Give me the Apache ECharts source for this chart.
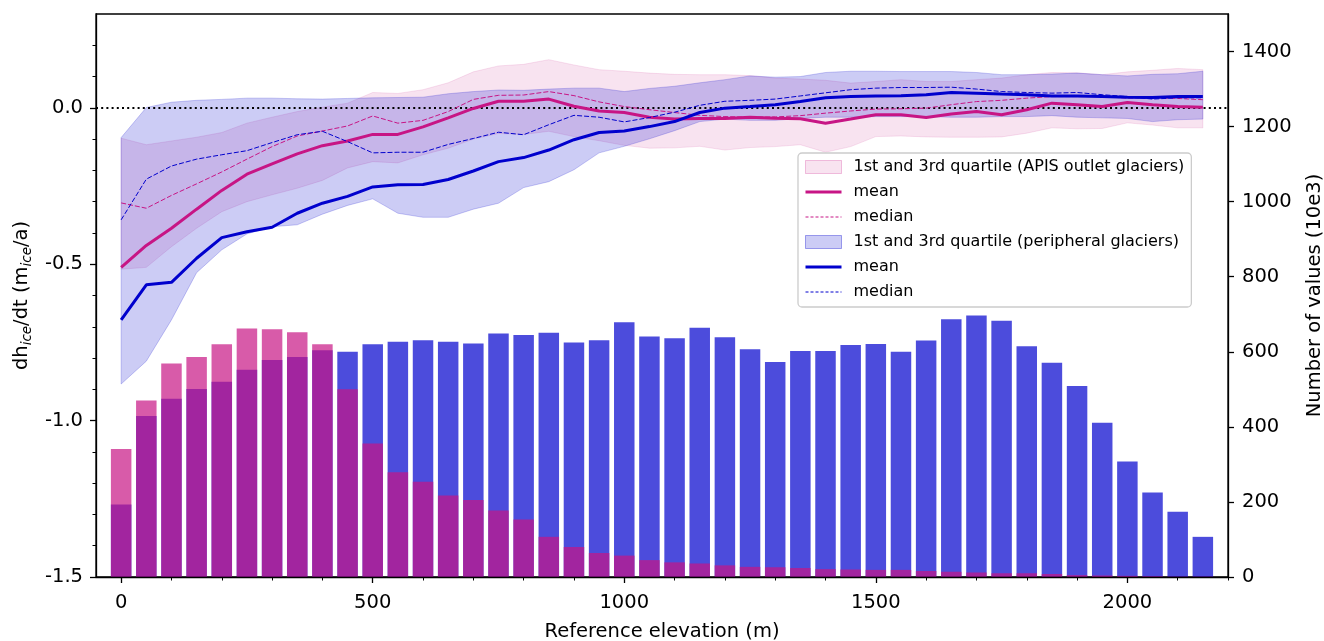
<!DOCTYPE html>
<html><head><meta charset="utf-8">
<script src="https://cdn.jsdelivr.net/npm/echarts@6/dist/echarts.min.js"></script>
<style>html,body{margin:0;padding:0;background:#fff}#c{width:1324px;height:641px}</style>
</head><body><div id="c"></div>
<script>
const elevations = [0,50,100,150,200,250,300,350,400,450,500,550,600,650,700,750,800,850,900,950,1000,1050,1100,1150,1200,1250,1300,1350,1400,1450,1500,1550,1600,1650,1700,1750,1800,1850,1900,1950,2000,2050,2100,2150];

const apisMean = [-0.51,-0.44,-0.385,-0.324,-0.264,-0.212,-0.179,-0.147,-0.121,-0.106,-0.085,-0.085,-0.061,-0.032,-0.002,0.021,0.021,0.028,0.005,-0.01,-0.015,-0.03,-0.036,-0.034,-0.034,-0.03,-0.033,-0.035,-0.049,-0.036,-0.022,-0.022,-0.031,-0.02,-0.012,-0.022,-0.006,0.015,0.01,0.004,0.017,0.01,0.004,0.002];
const apisMedian = [-0.304,-0.321,-0.28,-0.243,-0.205,-0.164,-0.124,-0.09,-0.074,-0.058,-0.026,-0.049,-0.04,-0.012,0.027,0.04,0.041,0.052,0.039,0.019,0.004,-0.006,-0.015,-0.024,-0.028,-0.03,-0.029,-0.025,-0.017,-0.01,-0.004,-0.003,-0.001,0.01,0.02,0.024,0.031,0.036,0.036,0.036,0.031,0.033,0.03,0.026];
const apisQ1 = [-0.516,-0.51,-0.444,-0.385,-0.332,-0.3,-0.278,-0.257,-0.232,-0.192,-0.172,-0.176,-0.15,-0.129,-0.1,-0.082,-0.085,-0.075,-0.092,-0.105,-0.12,-0.129,-0.128,-0.123,-0.135,-0.127,-0.124,-0.118,-0.142,-0.124,-0.092,-0.09,-0.093,-0.094,-0.094,-0.093,-0.081,-0.064,-0.067,-0.066,-0.048,-0.055,-0.064,-0.064];
const apisQ3 = [-0.097,-0.118,-0.106,-0.094,-0.079,-0.049,-0.03,-0.012,0.002,0.015,0.049,0.046,0.058,0.08,0.115,0.134,0.139,0.154,0.137,0.122,0.117,0.111,0.107,0.106,0.106,0.103,0.095,0.092,0.088,0.079,0.084,0.09,0.084,0.084,0.09,0.095,0.106,0.113,0.112,0.106,0.115,0.12,0.126,0.122];

const periMean = [-0.678,-0.566,-0.558,-0.481,-0.415,-0.396,-0.382,-0.337,-0.305,-0.283,-0.253,-0.246,-0.245,-0.229,-0.202,-0.172,-0.159,-0.135,-0.102,-0.079,-0.074,-0.06,-0.044,-0.015,-0.001,0.004,0.01,0.02,0.032,0.036,0.038,0.039,0.042,0.049,0.047,0.044,0.042,0.038,0.038,0.036,0.034,0.033,0.036,0.036];
const periMedian = [-0.358,-0.228,-0.186,-0.164,-0.15,-0.137,-0.111,-0.086,-0.075,-0.108,-0.144,-0.142,-0.142,-0.117,-0.098,-0.078,-0.086,-0.054,-0.024,-0.03,-0.045,-0.031,-0.014,0.008,0.021,0.024,0.028,0.038,0.048,0.058,0.063,0.065,0.065,0.066,0.06,0.052,0.049,0.047,0.049,0.042,0.036,0.028,0.032,0.032];
const periQ1 = [-0.883,-0.81,-0.678,-0.527,-0.454,-0.403,-0.38,-0.374,-0.34,-0.312,-0.291,-0.337,-0.35,-0.35,-0.324,-0.305,-0.255,-0.236,-0.198,-0.144,-0.123,-0.099,-0.073,-0.044,-0.036,-0.04,-0.04,-0.034,-0.03,-0.03,-0.028,-0.028,-0.028,-0.03,-0.03,-0.028,-0.028,-0.025,-0.03,-0.032,-0.034,-0.044,-0.038,-0.036];
const periQ3 = [-0.095,0.001,0.018,0.024,0.027,0.031,0.031,0.029,0.028,0.03,0.032,0.033,0.034,0.045,0.052,0.057,0.056,0.06,0.063,0.063,0.052,0.062,0.069,0.08,0.09,0.102,0.098,0.1,0.113,0.117,0.117,0.116,0.116,0.116,0.113,0.106,0.106,0.108,0.111,0.106,0.102,0.107,0.109,0.117];

const periCount = [193,429,475,501,520,552,578,586,604,600,620,627,631,627,622,649,645,651,625,631,679,641,636,664,639,607,573,602,602,618,621,600,630,687,697,683,615,571,509,411,308,225,174,107];
const apisCount = [341,470,569,586,620,662,660,652,620,500,356,279,254,217,205,177,153,107,80,64,57,45,39,36,31,27,26,24,21,20,19,19,16,14,12,10,10,8,5,4,3,2,1,1];

const xMajorTicks = [0,500,1000,1500,2000];
const xMinorTicks = [100,200,300,400,600,700,800,900,1100,1200,1300,1400,1600,1700,1800,1900,2100,2200];
const yLeftMajorTicks = [-1.5,-1.0,-0.5,0.0];
const yLeftMinorTicks = [-1.4,-1.3,-1.2,-1.1,-0.9,-0.8,-0.7,-0.6,-0.4,-0.3,-0.2,-0.1,0.1,0.2];
const yRightTicks = [0,200,400,600,800,1000,1200,1400];

const seriesNames = ['APIS quartiles','APIS mean','APIS median','peripheral quartiles','peripheral mean','peripheral median'];
const legendTexts = ['1st and 3rd quartile (APIS outlet glaciers)','mean','median','1st and 3rd quartile (peripheral glaciers)','mean','median'];

const FONT = 'DejaVu Sans';
const PINK = '#C71585';
const BLUE = '#0000CD';
const PINK_FILL = 'rgba(199,21,133,0.12)';
const BLUE_FILL = 'rgba(0,0,205,0.2)';

function pairs(ys) { return elevations.map((e, i) => [e, ys[i]]); }

function bandSeries(name, lower, upper, fill) {
  return {
    type: 'custom', name: name, xAxisIndex: 0, yAxisIndex: 0, z: 2,
    itemStyle: {color: fill, borderColor: fill, borderWidth: 1},
    encode: {x: 0, y: [1, 2]},
    data: elevations.map((e, i) => [e, lower[i], upper[i]]),
    renderItem: function (params, api) {
      if (params.dataIndex !== 0) return null;
      const pts = [];
      for (let i = 0; i < elevations.length; i++) pts.push(api.coord([elevations[i], upper[i]]));
      for (let i = elevations.length - 1; i >= 0; i--) pts.push(api.coord([elevations[i], lower[i]]));
      return {type: 'polygon', shape: {points: pts}, style: {fill: fill, stroke: fill, lineWidth: 1}};
    }
  };
}

function lineSeries(name, ys, color, width, dashed, z) {
  return {
    type: 'line', name: name, xAxisIndex: 0, yAxisIndex: 0, z: z,
    data: pairs(ys), symbol: 'none', showSymbol: false,
    lineStyle: {color: color, width: width, type: dashed ? [5, 2] : 'solid'},
    itemStyle: {color: color}
  };
}

const chart = echarts.init(document.getElementById('c'), null, {renderer: 'canvas'});

const tickStyle = {color: '#000', width: 1.3};
const labelStyle = {fontFamily: FONT, fontSize: 19.5, color: '#000'};
const plain = v => String(v);

const zeroLine = lineSeries(seriesNames[5], periMedian, BLUE, 1, true, 6);
zeroLine.markLine = {
  silent: true, symbol: ['none', 'none'], animation: false,
  label: {show: false},
  lineStyle: {color: '#000', type: [2, 3.2], width: 2},
  data: [{yAxis: 0}]
};

chart.setOption({
  animation: false,
  backgroundColor: '#fff',
  grid: {left: 96, right: 96, top: 14, bottom: 64, containLabel: false, outerBoundsMode: 'none',
         show: true, borderColor: '#000', borderWidth: 1.3, backgroundColor: 'transparent'},
  xAxis: [
    {
      type: 'value', min: -50, max: 2200, z: 10, position: 'bottom',
      axisLine: {show: true, onZero: false, lineStyle: {color: '#000', width: 1.3}},
      axisTick: {show: true, length: 6, lineStyle: tickStyle, customValues: xMajorTicks},
      axisLabel: {show: true, margin: 16, customValues: xMajorTicks, formatter: plain, ...labelStyle},
      splitLine: {show: false},
      name: 'Reference elevation (m)', nameLocation: 'middle', nameGap: 45,
      nameTextStyle: {fontFamily: FONT, fontSize: 19.5, color: '#000'}
    },
    {
      type: 'value', min: -50, max: 2200, z: 10, position: 'bottom',
      axisLine: {show: false, onZero: false},
      axisTick: {show: true, length: 3.5, lineStyle: {color: '#000', width: 1}, customValues: xMinorTicks},
      axisLabel: {show: false},
      splitLine: {show: false}
    }
  ],
  yAxis: [
    {
      type: 'value', min: -1.5, max: 0.3, position: 'left', z: 10,
      axisLine: {show: true, onZero: false, lineStyle: {color: '#000', width: 1.3}},
      axisTick: {show: true, length: 6, lineStyle: tickStyle, customValues: yLeftMajorTicks},
      axisLabel: {show: true, margin: 13, customValues: yLeftMajorTicks, formatter: v => Number(v).toFixed(1), ...labelStyle},
      splitLine: {show: false},
      name: '{a|dh}{s|ice}{a|/dt (m}{s|ice}{a|/a)}', nameLocation: 'middle', nameGap: 58, nameRotate: 90,
      nameTextStyle: {
        fontFamily: FONT, fontSize: 19.5, color: '#000',
        rich: {
          a: {fontFamily: FONT, fontSize: 19.5, color: '#000', lineHeight: 24, verticalAlign: 'middle'},
          s: {fontFamily: FONT, fontSize: 13.5, fontStyle: 'italic', color: '#000', lineHeight: 14, verticalAlign: 'bottom'}
        }
      }
    },
    {
      type: 'value', min: 0, max: 1500, position: 'right', z: 10,
      axisLine: {show: true, onZero: false, lineStyle: {color: '#000', width: 1.3}},
      axisTick: {show: true, length: 6, lineStyle: tickStyle, customValues: yRightTicks},
      axisLabel: {show: true, margin: 14, customValues: yRightTicks, formatter: plain, ...labelStyle},
      splitLine: {show: false},
      name: 'Number of values (10e3)', nameLocation: 'middle', nameGap: 77, nameRotate: 90,
      nameTextStyle: {fontFamily: FONT, fontSize: 19.5, color: '#000'}
    },
    {
      type: 'value', min: -1.5, max: 0.3, position: 'left', z: 10,
      axisLine: {show: false, onZero: false},
      axisTick: {show: true, length: 3.5, lineStyle: {color: '#000', width: 1}, customValues: yLeftMinorTicks},
      axisLabel: {show: false},
      splitLine: {show: false}
    }
  ],
  legend: {
    orient: 'vertical', left: 798, top: 153,
    padding: [6, 7, 7, 6], itemGap: 9, itemWidth: 36, itemHeight: 13,
    backgroundColor: 'rgba(255,255,255,0.85)', borderColor: '#cccccc', borderWidth: 1.3, borderRadius: 4,
    selectedMode: false,
    textStyle: {fontFamily: FONT, fontSize: 16, color: '#000', padding: [0, 0, 0, 7]},
    formatter: n => legendTexts[seriesNames.indexOf(n)],
    data: [
      {name: seriesNames[0], icon: 'rect', itemStyle: {color: PINK_FILL, borderColor: 'rgba(199,21,133,0.25)', borderWidth: 1}},
      {name: seriesNames[1], itemStyle: {opacity: 0}, lineStyle: {color: PINK, width: 3, type: 'solid'}},
      {name: seriesNames[2], itemStyle: {opacity: 0}, lineStyle: {color: PINK, width: 1, type: [3, 2]}},
      {name: seriesNames[3], icon: 'rect', itemStyle: {color: BLUE_FILL, borderColor: 'rgba(0,0,205,0.35)', borderWidth: 1}},
      {name: seriesNames[4], itemStyle: {opacity: 0}, lineStyle: {color: BLUE, width: 3, type: 'solid'}},
      {name: seriesNames[5], itemStyle: {opacity: 0}, lineStyle: {color: BLUE, width: 1, type: [3, 2]}}
    ]
  },
  series: [
    bandSeries(seriesNames[0], apisQ1, apisQ3, PINK_FILL),
    bandSeries(seriesNames[3], periQ1, periQ3, BLUE_FILL),
    lineSeries(seriesNames[1], apisMean, PINK, 3, false, 5),
    lineSeries(seriesNames[2], apisMedian, PINK, 1, true, 5),
    lineSeries(seriesNames[4], periMean, BLUE, 3, false, 6),
    zeroLine,
    {
      type: 'bar', name: 'peripheral count', xAxisIndex: 0, yAxisIndex: 1, z: 3,
      data: pairs(periCount), barWidth: 20.5, barGap: '-100%',
      itemStyle: {color: 'rgba(0,0,205,0.7)', borderWidth: 0}
    },
    {
      type: 'bar', name: 'APIS count', xAxisIndex: 0, yAxisIndex: 1, z: 3,
      data: pairs(apisCount), barWidth: 20.5, barGap: '-100%',
      itemStyle: {color: 'rgba(199,21,133,0.7)', borderWidth: 0}
    }
  ]
});
</script>
</body></html>
